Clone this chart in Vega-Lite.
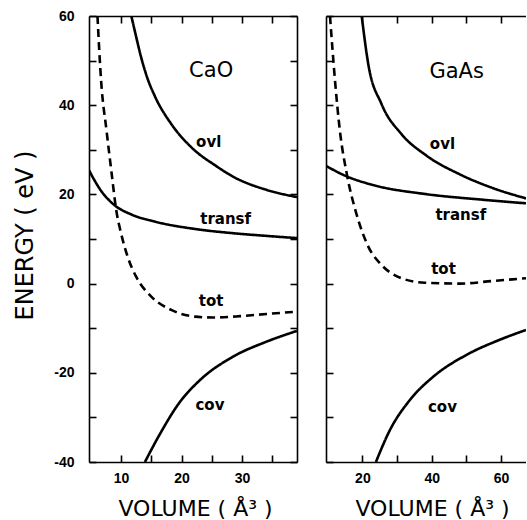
{
  "$schema": "https://vega.github.io/schema/vega-lite/v6.json",
  "padding": {"left": 13, "top": 9, "right": 0, "bottom": 0},
  "background": "white",
  "bounds": "flush",
  "spacing": 29,
  "config": {
    "view": {"stroke": null},
    "axis": {
      "grid": false,
      "domainColor": "black",
      "domainWidth": 1.6,
      "tickColor": "black",
      "tickWidth": 1.6,
      "tickSize": -7,
      "labelFlush": false,
      "labelFont": "Liberation Sans",
      "labelFontWeight": "bold",
      "labelFontSize": 14,
      "labelColor": "black",
      "titleFont": "DejaVu Sans",
      "titleFontWeight": "normal",
      "titleColor": "black"
    }
  },
  "datasets": {
    "cao": [
      {"curve": "ovl", "x": 11.7, "y": 60},
      {"curve": "ovl", "x": 12.3, "y": 56.5},
      {"curve": "ovl", "x": 13.35, "y": 50.6},
      {"curve": "ovl", "x": 14.3, "y": 46.3},
      {"curve": "ovl", "x": 15.6, "y": 42.0},
      {"curve": "ovl", "x": 18.3, "y": 35.8},
      {"curve": "ovl", "x": 21.6, "y": 30.6},
      {"curve": "ovl", "x": 25.8, "y": 26.3},
      {"curve": "ovl", "x": 28.5, "y": 24.0},
      {"curve": "ovl", "x": 34.1, "y": 21.0},
      {"curve": "ovl", "x": 39.1, "y": 19.4},
      {"curve": "transf", "x": 4.7, "y": 25.4},
      {"curve": "transf", "x": 6.7, "y": 20.8},
      {"curve": "transf", "x": 8.9, "y": 17.6},
      {"curve": "transf", "x": 11.7, "y": 15.5},
      {"curve": "transf", "x": 15.6, "y": 13.9},
      {"curve": "transf", "x": 22.5, "y": 12.2},
      {"curve": "transf", "x": 28.5, "y": 11.3},
      {"curve": "transf", "x": 34.0, "y": 10.7},
      {"curve": "transf", "x": 39.1, "y": 10.2},
      {"curve": "tot", "x": 6.1, "y": 60},
      {"curve": "tot", "x": 6.7, "y": 45.5},
      {"curve": "tot", "x": 7.6, "y": 34.3},
      {"curve": "tot", "x": 8.4, "y": 25.2},
      {"curve": "tot", "x": 9.2, "y": 16.5},
      {"curve": "tot", "x": 10.0, "y": 11.3},
      {"curve": "tot", "x": 11.1, "y": 6.0},
      {"curve": "tot", "x": 12.5, "y": 1.55},
      {"curve": "tot", "x": 15.0, "y": -2.9},
      {"curve": "tot", "x": 18.3, "y": -5.9},
      {"curve": "tot", "x": 22.2, "y": -7.4},
      {"curve": "tot", "x": 25.2, "y": -7.6},
      {"curve": "tot", "x": 29.7, "y": -7.3},
      {"curve": "tot", "x": 34.1, "y": -6.8},
      {"curve": "tot", "x": 39.1, "y": -6.3},
      {"curve": "cov", "x": 13.95, "y": -40},
      {"curve": "cov", "x": 16.4, "y": -33.8},
      {"curve": "cov", "x": 19.7, "y": -26.6},
      {"curve": "cov", "x": 23.0, "y": -21.7},
      {"curve": "cov", "x": 28.5, "y": -16.4},
      {"curve": "cov", "x": 34.1, "y": -13.0},
      {"curve": "cov", "x": 39.1, "y": -10.6}
    ],
    "gaas": [
      {"curve": "ovl", "x": 19.8, "y": 60},
      {"curve": "ovl", "x": 21.7, "y": 49.2},
      {"curve": "ovl", "x": 25.5, "y": 40.3},
      {"curve": "ovl", "x": 31.3, "y": 33.5},
      {"curve": "ovl", "x": 38.3, "y": 28.8},
      {"curve": "ovl", "x": 48.1, "y": 24.5},
      {"curve": "ovl", "x": 57.7, "y": 21.4},
      {"curve": "ovl", "x": 67.2, "y": 19.1},
      {"curve": "transf", "x": 9.5, "y": 26.4},
      {"curve": "transf", "x": 15.0, "y": 24.2},
      {"curve": "transf", "x": 23.6, "y": 22.0},
      {"curve": "transf", "x": 38.0, "y": 20.1},
      {"curve": "transf", "x": 54.8, "y": 18.8},
      {"curve": "transf", "x": 67.2, "y": 18.0},
      {"curve": "tot", "x": 10.65, "y": 60},
      {"curve": "tot", "x": 12.1, "y": 45.5},
      {"curve": "tot", "x": 13.5, "y": 34.3},
      {"curve": "tot", "x": 15.5, "y": 24.6},
      {"curve": "tot", "x": 18.3, "y": 15.6},
      {"curve": "tot", "x": 21.7, "y": 8.3},
      {"curve": "tot", "x": 25.5, "y": 4.2},
      {"curve": "tot", "x": 31.3, "y": 1.2},
      {"curve": "tot", "x": 38.0, "y": 0.2},
      {"curve": "tot", "x": 48.1, "y": 0.0},
      {"curve": "tot", "x": 57.7, "y": 0.6},
      {"curve": "tot", "x": 67.2, "y": 1.2},
      {"curve": "cov", "x": 23.9, "y": -40},
      {"curve": "cov", "x": 27.9, "y": -32.9},
      {"curve": "cov", "x": 33.7, "y": -26.1},
      {"curve": "cov", "x": 40.4, "y": -20.9},
      {"curve": "cov", "x": 50.0, "y": -16.0},
      {"curve": "cov", "x": 59.6, "y": -12.6},
      {"curve": "cov", "x": 67.2, "y": -10.4}
    ],
    "cao_text": [
      {"kind": "panel", "label": "CaO", "x": 24.9, "y": 47.6},
      {"kind": "curve", "label": "ovl", "x": 24.5, "y": 31.75},
      {"kind": "curve", "label": "transf", "x": 27.3, "y": 14.5},
      {"kind": "curve", "label": "tot", "x": 24.9, "y": -3.9},
      {"kind": "curve", "label": "cov", "x": 24.7, "y": -27.2}
    ],
    "gaas_text": [
      {"kind": "panel", "label": "GaAs", "x": 47.2, "y": 47.5},
      {"kind": "curve", "label": "ovl", "x": 43.1, "y": 31.3},
      {"kind": "curve", "label": "transf", "x": 48.4, "y": 15.4},
      {"kind": "curve", "label": "tot", "x": 43.4, "y": 3.3},
      {"kind": "curve", "label": "cov", "x": 43.1, "y": -27.7}
    ]
  },
  "hconcat": [
    {
      "width": 208,
      "height": 446,
      "layer": [
        {
          "data": {"name": "cao"},
          "mark": {"type": "line", "interpolate": "monotone", "clip": true, "color": "black"},
          "encoding": {
            "x": {
              "field": "x", "type": "quantitative",
              "scale": {"domain": [4.7, 39.1], "nice": false, "zero": false},
              "axis": {
                "orient": "bottom",
                "values": [10, 15, 20, 25, 30, 35],
                "labelExpr": "datum.value % 10 === 0 ? datum.label : ''",
                "labelPadding": 16,
                "title": "VOLUME ( Å³ )",
                "titleFontSize": 22,
                "titleX": 106,
                "titleY": 53,
                "titleAlign": "center",
                "titleBaseline": "alphabetic"
              }
            },
            "y": {
              "field": "y", "type": "quantitative",
              "scale": {"domain": [-40, 60], "nice": false, "zero": false},
              "axis": {
                "orient": "left",
                "values": [-40, -30, -20, -10, 0, 10, 20, 30, 40, 50, 60],
                "labelExpr": "datum.value % 20 === 0 ? '' + datum.value : ''",
                "labelPadding": 22,
                "title": "ENERGY ( eV )",
                "titleFontSize": 24,
                "titleX": -57,
                "titleY": 219,
                "titleAngle": 270,
                "titleAlign": "center",
                "titleBaseline": "alphabetic"
              }
            },
            "detail": {"field": "curve", "type": "nominal"},
            "strokeDash": {
              "field": "curve", "type": "nominal",
              "scale": {"domain": ["ovl", "transf", "tot", "cov"], "range": [[1, 0], [1, 0], [8, 5], [1, 0]]},
              "legend": null
            },
            "strokeWidth": {
              "field": "curve", "type": "nominal",
              "scale": {"domain": ["ovl", "transf", "tot", "cov"], "range": [2.6, 2.6, 2, 2.6]},
              "legend": null
            }
          }
        },
        {
          "data": {"name": "cao_text"},
          "transform": [{"filter": "datum.kind === 'curve'"}],
          "mark": {"type": "text", "font": "DejaVu Sans", "fontWeight": "bold", "fontSize": 15, "color": "black"},
          "encoding": {
            "x": {
              "field": "x", "type": "quantitative",
              "axis": {"orient": "top", "values": [10, 15, 20, 25, 30, 35], "labels": false, "title": null}
            },
            "y": {
              "field": "y", "type": "quantitative",
              "axis": {"orient": "right", "values": [-40, -30, -20, -10, 0, 10, 20, 30, 40, 50, 60], "labels": false, "title": null}
            },
            "text": {"field": "label", "type": "nominal"}
          }
        },
        {
          "data": {"name": "cao_text"},
          "transform": [{"filter": "datum.kind === 'panel'"}],
          "mark": {"type": "text", "font": "DejaVu Sans", "fontWeight": "normal", "fontSize": 21, "color": "black"},
          "encoding": {
            "x": {"field": "x", "type": "quantitative", "axis": null},
            "y": {"field": "y", "type": "quantitative", "axis": null},
            "text": {"field": "label", "type": "nominal"}
          }
        }
      ],
      "resolve": {"axis": {"x": "independent", "y": "independent"}}
    },
    {
      "width": 200,
      "height": 446,
      "layer": [
        {
          "data": {"name": "gaas"},
          "mark": {"type": "line", "interpolate": "monotone", "clip": true, "color": "black"},
          "encoding": {
            "x": {
              "field": "x", "type": "quantitative",
              "scale": {"domain": [9.5, 67.2], "nice": false, "zero": false},
              "axis": {
                "orient": "bottom",
                "values": [20, 30, 40, 50, 60],
                "labelExpr": "datum.value % 20 === 0 ? datum.label : ''",
                "labelPadding": 16,
                "title": "VOLUME ( Å³ )",
                "titleFontSize": 22,
                "titleX": 106,
                "titleY": 53,
                "titleAlign": "center",
                "titleBaseline": "alphabetic"
              }
            },
            "y": {
              "field": "y", "type": "quantitative",
              "scale": {"domain": [-40, 60], "nice": false, "zero": false},
              "axis": {
                "orient": "left",
                "values": [-40, -30, -20, -10, 0, 10, 20, 30, 40, 50, 60],
                "labels": false,
                "title": null
              }
            },
            "detail": {"field": "curve", "type": "nominal"},
            "strokeDash": {
              "field": "curve", "type": "nominal",
              "scale": {"domain": ["ovl", "transf", "tot", "cov"], "range": [[1, 0], [1, 0], [8, 5], [1, 0]]},
              "legend": null
            },
            "strokeWidth": {
              "field": "curve", "type": "nominal",
              "scale": {"domain": ["ovl", "transf", "tot", "cov"], "range": [2.6, 2.6, 2, 2.6]},
              "legend": null
            }
          }
        },
        {
          "data": {"name": "gaas_text"},
          "transform": [{"filter": "datum.kind === 'curve'"}],
          "mark": {"type": "text", "font": "DejaVu Sans", "fontWeight": "bold", "fontSize": 15, "color": "black"},
          "encoding": {
            "x": {
              "field": "x", "type": "quantitative",
              "axis": {"orient": "top", "values": [20, 30, 40, 50, 60], "labels": false, "title": null}
            },
            "y": {"field": "y", "type": "quantitative", "axis": null},
            "text": {"field": "label", "type": "nominal"}
          }
        },
        {
          "data": {"name": "gaas_text"},
          "transform": [{"filter": "datum.kind === 'panel'"}],
          "mark": {"type": "text", "font": "DejaVu Sans", "fontWeight": "normal", "fontSize": 21, "color": "black"},
          "encoding": {
            "x": {"field": "x", "type": "quantitative", "axis": null},
            "y": {"field": "y", "type": "quantitative", "axis": null},
            "text": {"field": "label", "type": "nominal"}
          }
        }
      ],
      "resolve": {"axis": {"x": "independent", "y": "independent"}}
    }
  ]
}
